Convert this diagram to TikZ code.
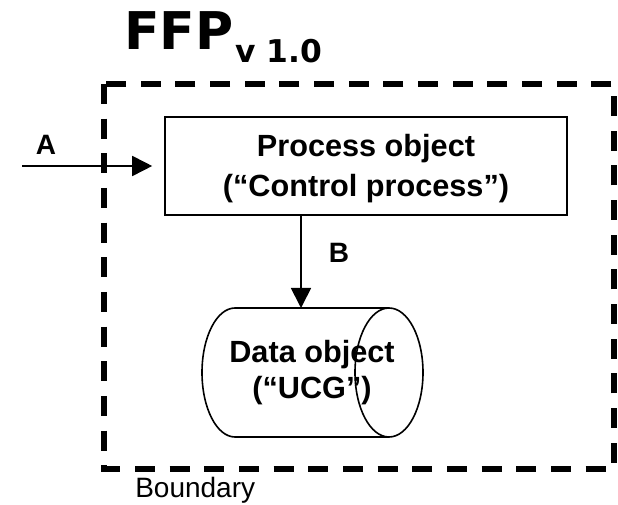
\documentclass[tikz,border=0pt]{standalone}
\usepackage{fontspec}
\setmainfont{Liberation Sans}
\newfontfamily\titlefont{DejaVu Sans}
\usetikzlibrary{arrows.meta}
\tikzset{
  boundaryline/.style={line width=4.5pt, dash pattern=on 15pt off 11pt},
  procbox/.style={draw, line width=1.2pt, minimum width=301.5pt, minimum height=73.5pt, inner sep=0pt},
  proctext/.style={align=center, inner sep=0pt, font=\bfseries\fontsize{23}{30}\selectfont},
  cylline/.style={line width=1.2pt},
  arr/.style={line width=1.3pt, -{Triangle[length=15pt, width=15pt]}},
  biglabel/.style={font=\bfseries\fontsize{21}{21}\selectfont, inner sep=0pt},
  datatext/.style={font=\bfseries\fontsize{23}{27}\selectfont, align=center, inner sep=0pt}
}
\begin{document}
\begin{tikzpicture}[x=0.75pt,y=-0.75pt]
\useasboundingbox (0,0) rectangle (618,505);
% title
\node[anchor=base west, inner sep=0pt, font=\titlefont\bfseries\fontsize{39}{39}\selectfont] (title) at (124,50) {FFP};
\node[anchor=base west, inner sep=0pt, font=\titlefont\bfseries\fontsize{23.5}{23.5}\selectfont] (version) at (235,63) {v 1.0};
% boundary
\draw[boundaryline] (104,84) rectangle (614,469);
\node[anchor=base west, inner sep=0pt, font=\fontsize{21}{21}\selectfont] (boundary) at (135,498) {Boundary};
% process box
\node[procbox] (proc) at (366,166) {};
\node[proctext] (proclabel) at (366,169) {Process object\\(“Control process”)};
% input arrow A
\coordinate (astart) at (22,166);
\draw[arr, shorten >=9pt] (astart) -- (proc.west);
\node[biglabel] (alabel) at (46,145) {A};
% cylinder
\coordinate (cyltop) at (301,308);
\draw[cylline] (389,308) -- (235,308) arc[start angle=90, end angle=270, x radius=24.75pt, y radius=48.375pt] -- (389,437);
\draw[cylline] (389,372.5) ellipse[x radius=25.5pt, y radius=48.375pt];
\node[datatext] (data) at (312,373) {Data object\\(“UCG”)};
% arrow B
\draw[arr] (proc.south -| cyltop) -- (cyltop);
\node[biglabel] (blabel) at (339,253) {B};
\end{tikzpicture}
\end{document}
